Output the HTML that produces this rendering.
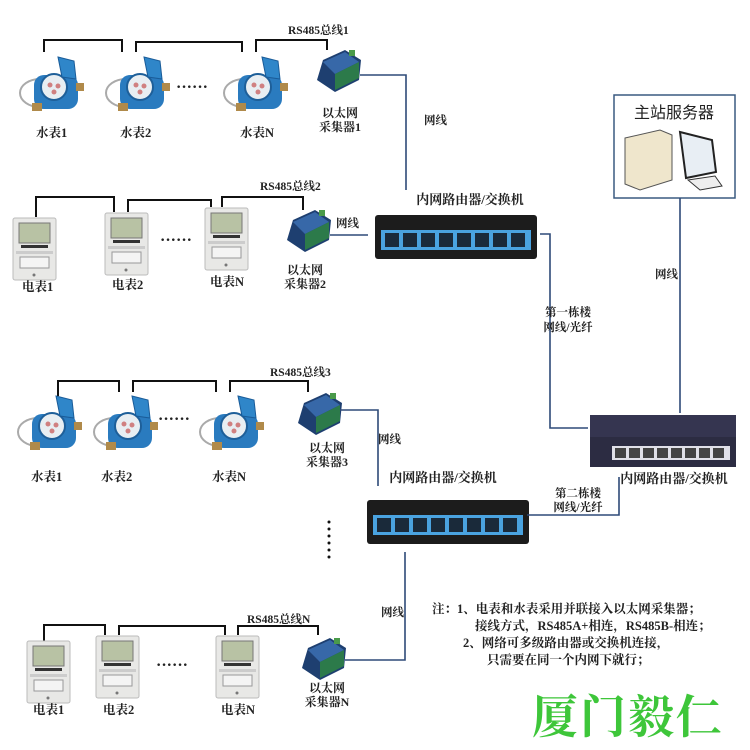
<!DOCTYPE html>
<html><head><meta charset="utf-8"><style>
body{margin:0;background:#fff}
svg{display:block}
text{font-family:"Liberation Serif","Noto Serif CJK SC",serif;font-weight:bold;fill:#222}
.s{font-family:"Liberation Sans","Noto Sans CJK SC",sans-serif;font-weight:normal}
</style></head><body>
<svg width="750" height="750" viewBox="0 0 750 750" xmlns="http://www.w3.org/2000/svg" font-size="11.5">
<defs>
<g id="wm">
<ellipse cx="22" cy="38" rx="20" ry="14" fill="none" stroke="#aaa" stroke-width="2"/>
<rect x="16" y="20" width="44" height="34" rx="10" fill="#2a7bbf"/>
<circle cx="36" cy="32" r="13" fill="#e8eef2" stroke="#1e5f99" stroke-width="2"/>
<circle cx="32" cy="30" r="2.5" fill="#d08080"/><circle cx="40" cy="31" r="2.5" fill="#d08080"/><circle cx="36" cy="37" r="2.5" fill="#d08080"/>
<path d="M40 2 L56 6 L58 24 L44 22 Z" fill="#2f86c9" stroke="#1a5c99"/>
<rect x="58" y="28" width="8" height="8" fill="#b08a4a"/>
<rect x="14" y="48" width="10" height="8" fill="#b08a4a"/>
</g>
<g id="em">
<rect x="0" y="0" width="43" height="62" rx="2" fill="#e8e8e6" stroke="#bbb"/>
<rect x="6" y="5" width="31" height="20" fill="#b8c2a4" stroke="#777"/>
<rect x="8" y="27" width="27" height="3" fill="#333"/>
<rect x="3" y="33" width="37" height="3" fill="#ccc"/>
<rect x="7" y="39" width="29" height="11" fill="#f4f4f4" stroke="#999"/>
<circle cx="21" cy="57" r="1.5" fill="#777"/>
</g>
<g id="co">
<path d="M8 10 L30 0 L46 10 L44 30 L20 42 L2 30 Z" fill="#1e3f70"/>
<path d="M8 12 L30 2 L44 12 L20 24 Z" fill="#3768a8"/>
<path d="M20 24 L44 12 L44 28 L20 40 Z" fill="#2c7a4a"/>
<rect x="34" y="0" width="6" height="6" fill="#4a9a4a"/>
</g>
<g id="sw">
<rect x="0" y="0" width="162" height="44" rx="3" fill="#1c1c1c"/>
<rect x="6" y="15" width="150" height="20" fill="#4aa3e0"/>
<g fill="#1a2a3a">
<rect x="10" y="18" width="14" height="14"/><rect x="28" y="18" width="14" height="14"/><rect x="46" y="18" width="14" height="14"/><rect x="64" y="18" width="14" height="14"/><rect x="82" y="18" width="14" height="14"/><rect x="100" y="18" width="14" height="14"/><rect x="118" y="18" width="14" height="14"/><rect x="136" y="18" width="14" height="14"/>
</g>
</g>
</defs>

<g fill="none" stroke="#111" stroke-width="2">
<path d="M44 52 V40 H122 V52"/><path d="M136 52 V42 H242 V52"/><path d="M256 52 V40 H327 V50"/>
<path d="M36 217 V197 H114 V212"/><path d="M128 212 V200 H211 V207"/><path d="M222 207 V197 H303 V210"/>
<path d="M58 396 V381 H119 V392"/><path d="M133 392 V381 H216 V392"/><path d="M230 392 V381 H308 V392"/>
<path d="M44 641 V625 H105 V635"/><path d="M119 635 V626 H225 V635"/><path d="M238 635 V626 H318 V635"/>
</g>

<use href="#wm" x="18" y="55"/><use href="#wm" x="104" y="55"/><use href="#wm" x="222" y="55"/>
<use href="#wm" x="16" y="394"/><use href="#wm" x="92" y="394"/><use href="#wm" x="198" y="394"/>
<use href="#em" x="13" y="218"/><use href="#em" x="105" y="213"/><use href="#em" x="205" y="208"/>
<use href="#em" x="27" y="641"/><use href="#em" x="96" y="636"/><use href="#em" x="216" y="636"/>
<use href="#co" x="315" y="50"/><use href="#co" x="285" y="210"/><use href="#co" x="296" y="393"/><use href="#co" x="300" y="638"/>

<g fill="#111">
<text x="176" y="92" font-size="16">······</text><text x="160" y="245" font-size="16">······</text>
<text x="158" y="424" font-size="16">······</text><text x="156" y="670" font-size="16">······</text>
</g>
<g fill="#111"><circle cx="329" cy="522" r="1.5"/><circle cx="329" cy="529" r="1.5"/><circle cx="329" cy="536" r="1.5"/><circle cx="329" cy="543" r="1.5"/><circle cx="329" cy="550" r="1.5"/><circle cx="329" cy="557" r="1.5"/></g>

<use href="#sw" x="375" y="215"/>
<use href="#sw" x="367" y="500"/>
<rect x="590" y="415" width="146" height="52" fill="#2c2c42"/>
<rect x="590" y="415" width="146" height="22" fill="#353550"/>
<rect x="612" y="446" width="118" height="14" fill="#e0e0e8"/>
<g fill="#444"><rect x="615" y="448" width="11" height="10"/><rect x="629" y="448" width="11" height="10"/><rect x="643" y="448" width="11" height="10"/><rect x="657" y="448" width="11" height="10"/><rect x="671" y="448" width="11" height="10"/><rect x="685" y="448" width="11" height="10"/><rect x="699" y="448" width="11" height="10"/><rect x="713" y="448" width="11" height="10"/></g>

<rect x="614" y="95" width="121" height="103" fill="#fff" stroke="#3a5a80" stroke-width="1.5"/>
<text x="674" y="118" text-anchor="middle" class="s" font-size="16">主站服务器</text>
<path d="M625 138 L660 130 L672 135 L672 180 L640 190 L625 184 Z" fill="#efe6cc" stroke="#555"/>
<path d="M680 132 L712 140 L716 172 L686 178 Z" fill="#e8eef4" stroke="#222" stroke-width="2"/>
<path d="M688 180 L715 176 L722 186 L700 190 Z" fill="#eee" stroke="#333"/>

<g fill="none" stroke="#2e4a78" stroke-width="1.6">
<path d="M360 75 H406 V190"/>
<path d="M330 235 H368"/>
<path d="M540 234 H550 V428 H588"/>
<path d="M680 198 V413"/>
<path d="M340 410 H378 V486"/>
<path d="M527 515 H619 V477"/>
<path d="M405 552 V660 H345"/>
</g>

<text x="288" y="34">RS485总线1</text>
<text x="260" y="190">RS485总线2</text>
<text x="270" y="376">RS485总线3</text>
<text x="247" y="623">RS485总线N</text>
<text x="36" y="137" font-size="12.5">水表1</text><text x="120" y="137" font-size="12.5">水表2</text><text x="240" y="137" font-size="12.5">水表N</text>
<text x="22" y="291" font-size="12.5">电表1</text><text x="112" y="289" font-size="12.5">电表2</text><text x="210" y="286" font-size="12.5">电表N</text>
<text x="31" y="481" font-size="12.5">水表1</text><text x="101" y="481" font-size="12.5">水表2</text><text x="212" y="481" font-size="12.5">水表N</text>
<text x="33" y="714" font-size="12.5">电表1</text><text x="103" y="714" font-size="12.5">电表2</text><text x="221" y="714" font-size="12.5">电表N</text>
<g text-anchor="middle">
<text x="340" y="117" font-size="12">以太网</text><text x="340" y="131" font-size="12">采集器1</text>
<text x="305" y="274" font-size="12">以太网</text><text x="305" y="288" font-size="12">采集器2</text>
<text x="327" y="452" font-size="12">以太网</text><text x="327" y="466" font-size="12">采集器3</text>
<text x="327" y="692" font-size="12">以太网</text><text x="327" y="706" font-size="12">采集器N</text>
<text x="470" y="204" font-size="13">内网路由器/交换机</text>
<text x="443" y="482" font-size="13">内网路由器/交换机</text>
<text x="674" y="483" font-size="13">内网路由器/交换机</text>
<text x="568" y="316">第一栋楼</text><text x="568" y="331">网线/光纤</text>
<text x="578" y="497">第二栋楼</text><text x="578" y="511">网线/光纤</text>
</g>
<text x="424" y="124">网线</text>
<text x="336" y="227">网线</text>
<text x="655" y="278">网线</text>
<text x="378" y="443">网线</text>
<text x="381" y="616">网线</text>
<g font-size="12.5">
<text x="432" y="613">注：1、电表和水表采用并联接入以太网采集器；</text>
<text x="475" y="630">接线方式，RS485A+相连，RS485B-相连；</text>
<text x="463" y="647">2、网络可多级路由器或交换机连接，</text>
<text x="487" y="664">只需要在同一个内网下就行；</text>
</g>
<text x="532" y="733" font-size="46" style="font-family:'Noto Serif CJK SC',serif;font-weight:bold;fill:#3ec63a;letter-spacing:2px">厦门毅仁</text>
</svg>
</body></html>
